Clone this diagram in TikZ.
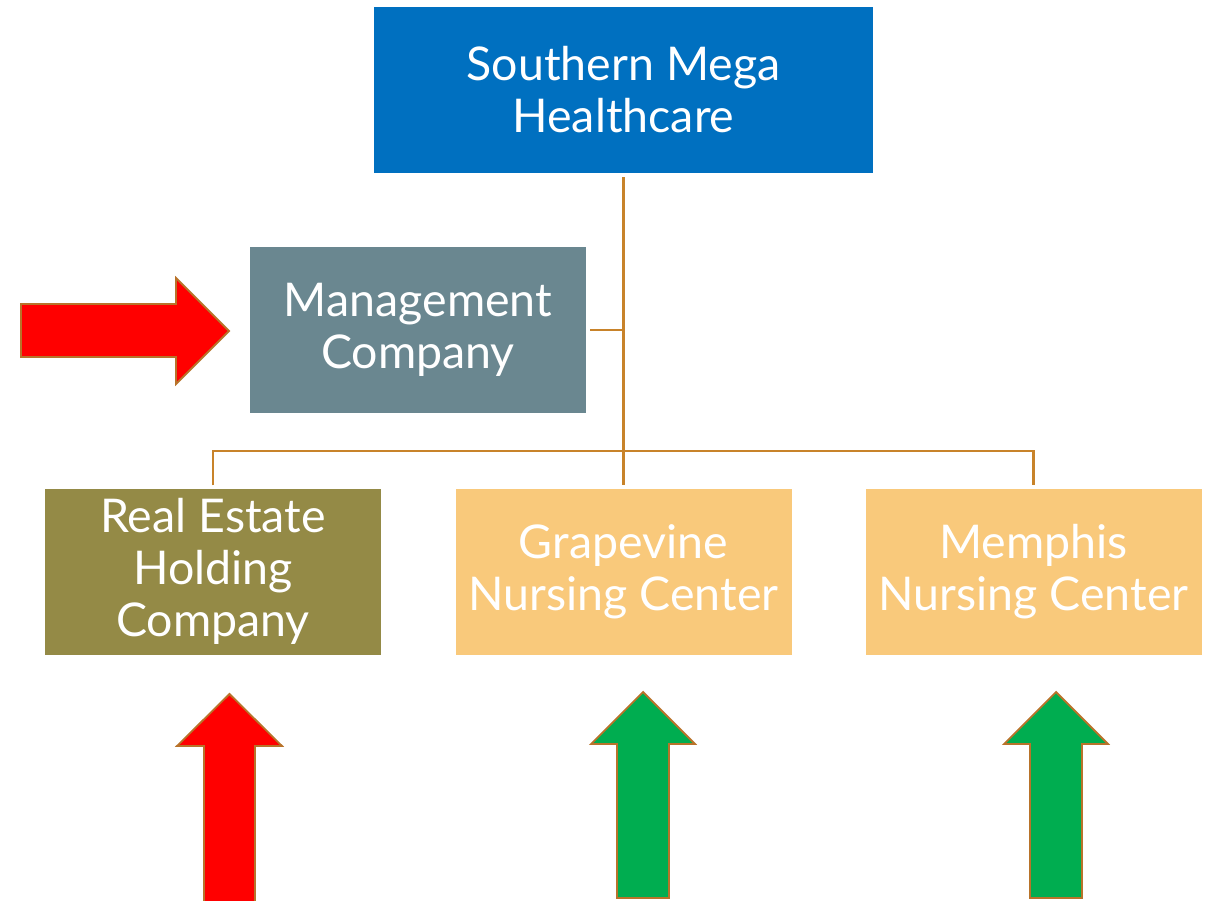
\documentclass[tikz,border=0pt]{standalone}
\usepackage{fontspec}
\setmainfont{Lato}
\begin{document}
\begin{tikzpicture}[x=1pt,y=-1pt,
  orgbox/.style={minimum width=336pt,minimum height=166pt,inner sep=0pt,
    text=white,align=center,font=\fontsize{46.5}{52}\selectfont},
  link/.style={draw=linkc,line width=2.6pt},
  bigarrow/.style={draw=outlinec,line width=1.8pt,line join=miter}]
\definecolor{topblue}{HTML}{0070C0}
\definecolor{mgmtc}{HTML}{6A8790}
\definecolor{olivec}{HTML}{948A46}
\definecolor{peachc}{HTML}{F9C97B}
\definecolor{linkc}{HTML}{C8832A}
\definecolor{outlinec}{HTML}{B8732A}
\definecolor{redc}{HTML}{FF0000}
\definecolor{greenc}{HTML}{00AD50}
\useasboundingbox (0,0) rectangle (1214,900);

% boxes
\node[orgbox,fill=topblue,minimum width=499pt] (smh) at (623.5,90) {Southern Mega\\Healthcare};
\node[orgbox,fill=mgmtc] (mgmt) at (418,330) {Management\\Company};
\node[orgbox,fill=olivec] (re) at (213,571.5) {Real Estate\\Holding\\Company};
\node[orgbox,fill=peachc] (gv) at (623.5,571.5) {Grapevine\\Nursing Center};
\node[orgbox,fill=peachc] (mp) at (1033.5,571.5) {Memphis\\Nursing Center};

% connectors
\coordinate (bus) at (smh.south |- 0,451);
\draw[link] ([yshift=-4pt]smh.south) -- ([yshift=3pt]gv.north);
\draw[link] ([xshift=4pt]mgmt.east) -- (mgmt.east -| smh.south);
\draw[link] ([yshift=3pt]re.north) -- (re.north |- bus) -- (mp.north |- bus) -- ([yshift=3pt]mp.north);

% block arrows
\draw[bigarrow,fill=redc] (21,304) -- (176,304) -- (176,278) -- (229,331) -- (176,384) -- (176,357) -- (21,357) -- cycle;
\draw[bigarrow,fill=redc] (204,905) -- (204,746) -- (177,746) -- (229.5,694) -- (282,746) -- (255,746) -- (255,905) -- cycle;
\draw[bigarrow,fill=greenc] (617,898) -- (617,744) -- (591,744) -- (643,692) -- (695,744) -- (669,744) -- (669,898) -- cycle;
\draw[bigarrow,fill=greenc] (1030,898) -- (1030,744) -- (1004,744) -- (1056,692) -- (1108,744) -- (1082,744) -- (1082,898) -- cycle;
\end{tikzpicture}
\end{document}
